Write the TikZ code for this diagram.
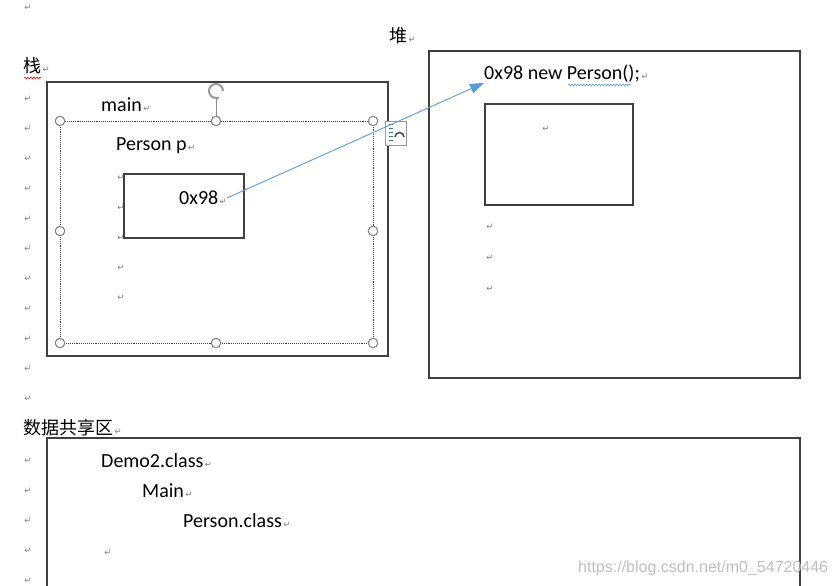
\documentclass[tikz,border=0pt]{standalone}
\usepackage{fontspec}
\setmainfont{Carlito}
\newfontfamily\cjk{Noto Sans CJK SC}
\newfontfamily\symfnt{DejaVu Sans}
\newfontfamily\wmfont{Liberation Sans}
\usetikzlibrary{arrows.meta,decorations.pathmorphing}
\definecolor{arrowblue}{HTML}{5B9BD5}
\definecolor{framegray}{HTML}{404040}
\newcommand{\retmk}{{\symfnt\fontsize{8.5}{8.5}\selectfont\color{black!50}\,↵}}

\begin{document}
\begin{tikzpicture}[x=1pt, y=-1pt, font=\fontsize{20}{22}\selectfont,
  txt/.style={anchor=west, inner sep=0pt},
  zh/.style={anchor=west, inner sep=0pt, font=\cjk\fontsize{18}{20}\selectfont},
  box/.style={draw=framegray, line width=1.1pt},
  handle/.style={circle, draw=black!50, fill=white, line width=1pt, minimum size=9.5pt, inner sep=0pt},
  mk/.style={inner sep=0pt, font=\symfnt\fontsize{8.5}{8.5}\selectfont, text=black!50},
  wavy/.style={decorate, decoration={snake, amplitude=0.9pt, segment length=3pt}, line width=0.6pt}]
\useasboundingbox (0,0) rectangle (833,586);

% page labels
\node[mk] (top) at (28,8) {↵};
\node[zh] (heaplbl) at (389,36) {堆\retmk};
\node[zh] (stacklbl) at (23,66) {栈\retmk};
\draw[wavy, red] (24,78) -- (41,78);
\node[zh] (sharelbl) at (23,428) {数据共享区\retmk};
\foreach \y [count=\i] in {99,129,...,399}
  \node[mk] (lm\i) at (28,\y) {↵};
\foreach \y [count=\i] in {461,491,...,581}
  \node[mk] (lb\i) at (28,\y) {↵};

% stack
\draw[box] (47,82) rectangle (388,356);
\node[txt] (mainlbl) at (101,105) {main\retmk};
\draw[framegray, densely dotted, line width=0.9pt] (60,121) rectangle (373,343);
\draw[black!45, line width=1pt] (216,99) -- (216,117);
\draw[black!40, line width=2pt, -{Stealth[length=4pt]}] (223,91) arc[start angle=0, end angle=300, radius=7pt];
\foreach \x/\y [count=\i] in {60/121,216/121,373/121,60/231,373/231,60/343,216/343,373/343}
  \node[handle] (h\i) at (\x,\y) {};
\node[draw=black!40, fill=white, minimum width=21pt, minimum height=24pt, inner sep=0pt] (layout) at (396,133) {};
\foreach \y in {124,128,132,136,140}
  \draw[arrowblue!70!black, line width=0.7pt] (389,\y) -- (393,\y);
\draw[black!70, line width=1.6pt] (395,137) arc[start angle=180, end angle=0, radius=4.5pt];
\node[txt] (varp) at (116,146) {Person p\retmk};
\draw[box] (124,174) rectangle (244,238);
\node[txt] (ptr) at (179,198) {0x98\retmk};
\foreach \y [count=\i] in {178,208,238,268,298}
  \node[mk] (sm\i) at (121,\y) {↵};

% heap
\draw[box] (429,51) rectangle (800,378);
\node[txt] (obj) at (484,74) {0x98 new Person();\retmk};
\draw[wavy, arrowblue] (568,85) -- (631,85);
\draw[box] (485,104) rectangle (633,205);
\node[mk] (hm0) at (546,129) {↵};
\foreach \y [count=\i] in {227,258,289}
  \node[mk] (hm\i) at (490,\y) {↵};

% reference
\draw[arrowblue, line width=0.9pt, -{Triangle[length=14pt, width=10pt]}] (ptr.east) -- (obj.south west);

% shared area
\draw[box] (47,596) -- (47,438) -- (800,438) -- (800,596);
\node[txt] (democls) at (101,461) {Demo2.class\retmk};
\node[txt] (mainm) at (142,491) {Main\retmk};
\node[txt] (personcls) at (183,521) {Person.class\retmk};
\node[mk] (bm) at (108,553) {↵};
\node[txt, font=\wmfont\fontsize{16}{16}\selectfont, text=black!25] (url) at (578,568) {https://blog.csdn.net/m0\_54720446};
\end{tikzpicture}
\end{document}
